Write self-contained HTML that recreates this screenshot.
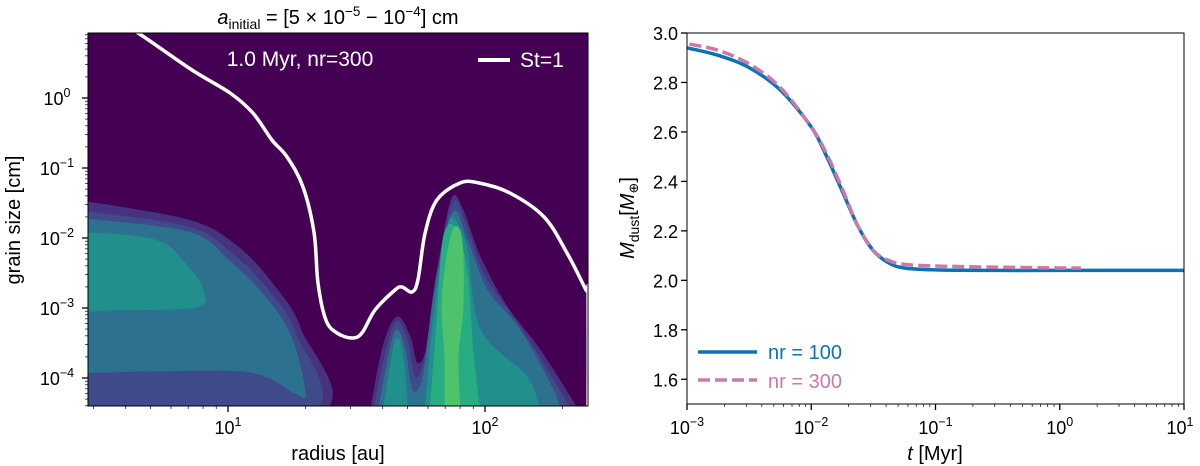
<!DOCTYPE html>
<html><head><meta charset="utf-8"><style>
html,body{margin:0;padding:0;background:#fff;width:1200px;height:466px;overflow:hidden}
svg{display:block;font-family:"Liberation Sans","DejaVu Sans",sans-serif}
</style></head><body>
<svg id="fig" width="1200" height="466" viewBox="0 0 1200 466" xmlns="http://www.w3.org/2000/svg">
<defs><clipPath id="lclip"><rect x="88" y="33" width="500" height="373"/></clipPath>
<clipPath id="rclip"><rect x="687" y="33" width="497" height="371"/></clipPath></defs>
<g id="left"></g>
<g id="right"></g>
</svg>
<script>
// ---------- Left panel data (log10 radius [au], log10 grain size [cm]) ----------
const stLine = [[0.60,1.0],[0.650,0.929],[0.860,0.400],[1.008,0.071],[1.097,-0.214],[1.171,-0.600],[1.230,-0.843],[1.292,-1.271],[1.335,-1.929],[1.350,-2.643],[1.381,-3.171],[1.424,-3.357],[1.482,-3.429],[1.521,-3.357],[1.572,-3.029],[1.650,-2.743],[1.677,-2.700],[1.716,-2.771],[1.739,-2.600],[1.767,-1.929],[1.813,-1.457],[1.903,-1.214],[1.977,-1.214],[2.097,-1.357],[2.230,-1.700],[2.319,-2.214],[2.393,-2.743],[2.401,-2.800],[2.401,-4.5]];
const levelColors = ["#46327e","#3e4a89","#2c728e","#21908d","#27ad81","#4ec36b"];
const contours = [
 {lvl:0, pts:[[0.4,-1.457],[0.844,-1.743],[1.039,-2.129],[1.183,-2.7],[1.284,-3.314],[1.350,-4.5],[0.4,-4.5]]},
 {lvl:1, pts:[[0.4,-1.6],[0.844,-1.843],[1.012,-2.214],[1.156,-2.743],[1.261,-3.357],[1.311,-4.5],[0.4,-4.5]]},
 {lvl:2, pts:[[0.4,-1.714],[0.844,-1.914],[1.0,-2.314],[1.144,-2.843],[1.245,-3.414],[1.300,-4.214],[1.261,-4.214],[1.086,-3.914],[0.7,-3.9],[0.4,-3.929]]},
 {lvl:3, pts:[[0.4,-1.914],[0.716,-2.029],[0.844,-2.414],[0.903,-2.743],[0.872,-2.986],[0.533,-3.029],[0.4,-3.071]]},
 {lvl:0, pts:[[1.553,-4.5],[1.603,-3.557],[1.658,-3.129],[1.708,-3.414],[1.735,-3.786],[1.774,-3.557],[1.825,-2.271],[1.872,-1.429],[1.914,-1.6],[1.981,-2.271],[2.086,-2.986],[2.214,-3.6],[2.370,-4.5]]},
 {lvl:1, pts:[[1.564,-4.5],[1.619,-3.557],[1.658,-3.2],[1.696,-3.457],[1.728,-3.986],[1.767,-3.7],[1.813,-2.5],[1.875,-1.5],[1.922,-1.786],[1.992,-2.5],[2.109,-3.129],[2.226,-3.786],[2.342,-4.5]]},
 {lvl:2, pts:[[1.584,-4.5],[1.630,-3.6],[1.658,-3.314],[1.689,-3.6],[1.716,-4.171],[1.759,-3.986],[1.805,-2.743],[1.875,-1.643],[1.930,-2.029],[2.008,-2.743],[2.136,-3.314],[2.265,-4.171],[2.292,-4.5]]},
 {lvl:3, pts:[[1.603,-4.5],[1.638,-3.7],[1.658,-3.429],[1.681,-3.7],[1.700,-4.5]]},
 {lvl:3, pts:[[1.767,-4.5],[1.798,-3.214],[1.852,-1.886],[1.883,-1.743],[1.930,-2.171],[1.981,-3.314],[2.163,-3.986],[2.214,-4.5]]},
 {lvl:4, pts:[[1.786,-4.5],[1.813,-3.214],[1.837,-2.029],[1.883,-1.843],[1.930,-2.5],[1.953,-3.643],[1.981,-4.5]]},
 {lvl:5, pts:[[1.844,-4.5],[1.844,-3.7],[1.833,-2.986],[1.852,-2.271],[1.883,-1.843],[1.911,-2.071],[1.914,-2.986],[1.895,-3.7],[1.903,-4.5]]}
];
const leftYTicks = [0,-1,-2,-3,-4];
const leftXTicks = [1,2];
// ---------- Right panel data ----------
const tLog100 = [-3,-2.75,-2.5,-2.25,-2,-1.875,-1.75,-1.625,-1.5,-1.375,-1.25,-1,-0.5,0,1];
const m100 =    [2.94,2.91,2.86,2.77,2.62,2.50,2.36,2.22,2.12,2.07,2.05,2.042,2.04,2.04,2.04];
const tLog300 = [-2.98,-2.75,-2.5,-2.25,-2,-1.875,-1.75,-1.625,-1.5,-1.375,-1.25,-1,-0.5,0,0.17];
const m300 =    [2.955,2.93,2.875,2.78,2.62,2.51,2.37,2.22,2.12,2.08,2.065,2.058,2.053,2.05,2.05];
const rightYTicks = [1.6,1.8,2.0,2.2,2.4,2.6,2.8,3.0];
const rightYLabels = ["1.6","1.8","2.0","2.2","2.4","2.6","2.8","3.0"];
const rightXTicks = [-3,-2,-1,0,1];

const NS="http://www.w3.org/2000/svg";
function mk(tag, attrs, parent){const e=document.createElementNS(NS,tag);for(const k in attrs)e.setAttribute(k,attrs[k]);parent.appendChild(e);return e;}
// Catmull-Rom smoothing (open), optional straight closure
function smooth(P, close){
  const n=P.length;
  const g=i=> P[Math.max(0,Math.min(n-1,i))];
  let d='M'+P[0][0].toFixed(1)+','+P[0][1].toFixed(1);
  for(let i=0;i<n-1;i++){
    const p0=g(i-1),p1=g(i),p2=g(i+1),p3=g(i+2);
    const c1=[p1[0]+(p2[0]-p0[0])/6,p1[1]+(p2[1]-p0[1])/6];
    const c2=[p2[0]-(p3[0]-p1[0])/6,p2[1]-(p3[1]-p1[1])/6];
    d+='C'+c1[0].toFixed(1)+','+c1[1].toFixed(1)+' '+c2[0].toFixed(1)+','+c2[1].toFixed(1)+' '+p2[0].toFixed(1)+','+p2[1].toFixed(1);
  }
  return d+(close?'Z':'');
}
// axis functions
const LX = lr => 228 + 257*(lr-1);
const LY = la => 98 - 70*la;
const RX = lt => 687 + (lt+3)*497/4;
const RY = m => 33 + (3.0-m)*(371/1.5);

const L=document.getElementById('left');
let bg=mk('rect',{x:88,y:33,width:500,height:373,fill:'#440154'},L);


const cg=mk('g',{'clip-path':'url(#lclip)'},L);
contours.forEach((c,i)=>{
  const p=mk('path',{d:smooth(c.pts.map(q=>[LX(q[0]),LY(q[1])]),true),fill:levelColors[c.lvl],stroke:levelColors[c.lvl],'stroke-width':1,'stroke-linejoin':'round'},cg);
  
  
});
const st=mk('path',{d:smooth(stLine.map(q=>[LX(q[0]),LY(q[1])]),false),fill:'none',stroke:'#fff','stroke-width':3.5,'stroke-linejoin':'round'},cg);


let fr=mk('rect',{x:88,y:33,width:500,height:373,fill:'none',stroke:'#000','stroke-width':1},L);


leftYTicks.forEach(t=>{
  const y=LY(t);
  mk('line',{x1:82,y1:y,x2:88,y2:y,stroke:'#000','stroke-width':1.3},L);
  const tx=mk('text',{x:57,y:y+7,'font-size':18,'text-anchor':'middle'},L);
  
  
  tx.innerHTML='10<tspan dy="-8" font-size="12.5">'+(t<0?'\u2212'+(-t):t)+'</tspan>';
});
for(let d=-5;d<=1;d++)for(let k=2;k<=9;k++){const y=LY(d+Math.log10(k));if(y>33&&y<406)mk('line',{x1:85,y1:y,x2:88,y2:y,stroke:'#000','stroke-width':0.7},L);}
leftXTicks.forEach(t=>{
  const x=LX(t);
  mk('line',{x1:x,y1:406,x2:x,y2:412,stroke:'#000','stroke-width':1.3},L);
  const tx=mk('text',{x:x,y:434,'font-size':18,'text-anchor':'middle'},L);
  
  
  tx.innerHTML='10<tspan dy="-8" font-size="12.5">'+t+'</tspan>';
});
for(let d=0;d<=2;d++)for(let k=2;k<=9;k++){const x=LX(d+Math.log10(k));if(x>88&&x<588)mk('line',{x1:x,y1:406,x2:x,y2:409,stroke:'#000','stroke-width':0.7},L);}
let t1=mk('text',{x:338,y:460,'font-size':20,'text-anchor':'middle'},L);t1.textContent='radius [au]';

let t2=mk('text',{x:0,y:0,'font-size':20,'text-anchor':'middle',transform:'translate(20,220) rotate(-90)'},L);t2.textContent='grain size [cm]';

let t3=mk('text',{x:338,y:24,'font-size':20,'text-anchor':'middle'},L);

t3.innerHTML='<tspan font-style="italic">a</tspan><tspan dy="5" font-size="14">initial</tspan><tspan dy="-5"> = [5 × 10</tspan><tspan dy="-8" font-size="13.5">\u22125</tspan><tspan dy="8"> \u2212 10</tspan><tspan dy="-8" font-size="13.5">\u22124</tspan><tspan dy="8">] cm</tspan>';
let t4=mk('text',{x:300,y:66,'font-size':21,'text-anchor':'middle',fill:'#fff'},L);t4.textContent='1.0 Myr, nr=300';

let lg1=mk('line',{x1:478,y1:60,x2:510,y2:60,stroke:'#fff','stroke-width':4},L);

let t5=mk('text',{x:520,y:67,'font-size':21,fill:'#fff'},L);t5.textContent='St=1';


// ---------- Right panel ----------
const R=document.getElementById('right');
const rg=mk('g',{'clip-path':'url(#rclip)'},R);
let p1=mk('path',{d:smooth(tLog100.map((t,i)=>[RX(t),RY(m100[i])]),false),fill:'none',stroke:'#0a72b5','stroke-width':3.5,'stroke-linejoin':'round'},rg);

let p2=mk('path',{d:smooth(tLog300.map((t,i)=>[RX(t),RY(m300[i])]),false),fill:'none',stroke:'#cc79a7','stroke-width':3.5,'stroke-dasharray':'12,5','stroke-linejoin':'round'},rg);

let rf=mk('rect',{x:687,y:33,width:497,height:371,fill:'none',stroke:'#000','stroke-width':1},R);

rightYTicks.forEach((v,i)=>{
  const y=RY(v);
  mk('line',{x1:681,y1:y,x2:687,y2:y,stroke:'#000','stroke-width':1.3},R);
  const tx=mk('text',{x:678,y:y+7,'font-size':18,'text-anchor':'end'},R);
  tx.textContent=rightYLabels[i];
  
});
rightXTicks.forEach(t=>{
  const x=RX(t);
  mk('line',{x1:x,y1:404,x2:x,y2:410,stroke:'#000','stroke-width':1.3},R);
  const tx=mk('text',{x:Math.min(x,1180),y:434,'font-size':18,'text-anchor':'middle'},R);
  
  tx.innerHTML='10<tspan dy="-8" font-size="12.5">'+(t<0?'\u2212'+(-t):t)+'</tspan>';
});
for(let d=-3;d<1;d++)for(let k=2;k<=9;k++){const x=RX(d+Math.log10(k));mk('line',{x1:x,y1:404,x2:x,y2:407,stroke:'#000','stroke-width':0.7},R);}
let r1=mk('text',{x:935,y:460,'font-size':20,'text-anchor':'middle'},R);
r1.innerHTML='<tspan font-style="italic">t</tspan> [Myr]';

let r2=mk('text',{x:0,y:0,'font-size':20,'text-anchor':'middle',transform:'translate(634,218) rotate(-90)'},R);
r2.innerHTML='<tspan font-style="italic">M</tspan><tspan dy="5" font-size="14">dust</tspan><tspan dy="-5">[</tspan><tspan font-style="italic">M</tspan><tspan dy="4" font-size="13">\u2295</tspan><tspan dy="-4">]</tspan>';

let lA=mk('line',{x1:698,y1:352,x2:757,y2:352,stroke:'#0a72b5','stroke-width':3.5},R);

let lB=mk('line',{x1:698,y1:380,x2:757,y2:380,stroke:'#cc79a7','stroke-width':3.5,'stroke-dasharray':'12,5'},R);

let la1=mk('text',{x:768,y:359,'font-size':20,fill:'#0a72b5'},R);la1.textContent='nr = 100';

let la2=mk('text',{x:768,y:388,'font-size':20,fill:'#cc79a7'},R);la2.textContent='nr = 300';

</script>
</body></html>
